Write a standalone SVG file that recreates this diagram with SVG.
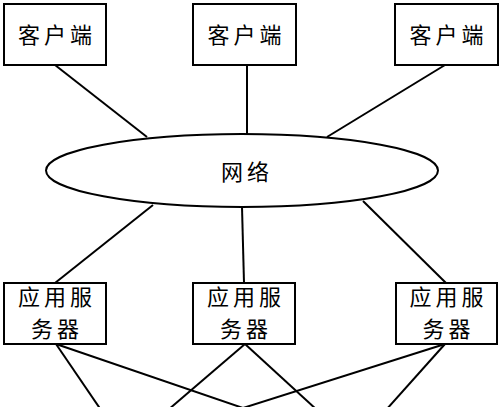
<svg xmlns="http://www.w3.org/2000/svg" width="500" height="407" viewBox="0 0 500 407">
<style>
.box{fill:#fff;stroke:#000;stroke-width:2}
.ln{stroke:#000;stroke-width:2;fill:none}
.t{font-family:"Noto Sans CJK SC","Noto Sans",sans-serif;font-size:22px;fill:#000;text-anchor:middle;letter-spacing:4px}
</style>
<rect width="500" height="407" fill="#fff"/>
<g id="connectors">
<line class="ln" x1="55" y1="65" x2="147" y2="137"/>
<line class="ln" x1="247" y1="65" x2="247" y2="134"/>
<line class="ln" x1="445" y1="65" x2="327" y2="137"/>
<line class="ln" x1="153" y1="205" x2="55" y2="283"/>
<line class="ln" x1="242" y1="207" x2="244" y2="283"/>
<line class="ln" x1="363" y1="201" x2="446" y2="283"/>
<line class="ln" x1="56" y1="344" x2="101" y2="410"/>
<line class="ln" x1="56" y1="344" x2="243" y2="408"/>
<line class="ln" x1="245" y1="344" x2="168" y2="410"/>
<line class="ln" x1="245" y1="344" x2="317" y2="410"/>
<line class="ln" x1="445" y1="344" x2="243" y2="408"/>
<line class="ln" x1="445" y1="344" x2="386" y2="410"/>
</g>
<g id="client1"><rect class="box" x="4" y="4" width="102" height="61"/><text class="t" x="57" y="43">客户端</text></g>
<g id="client2"><rect class="box" x="193" y="4" width="103" height="61"/><text class="t" x="246.5" y="43">客户端</text></g>
<g id="client3"><rect class="box" x="395" y="4" width="103" height="61"/><text class="t" x="448.5" y="43">客户端</text></g>
<g id="network"><ellipse class="box" cx="242" cy="170.5" rx="196" ry="36.5"/><text class="t" x="247" y="180">网络</text></g>
<g id="server1"><rect class="box" x="4" y="283" width="102" height="61"/><text class="t" x="57" y="305">应用服</text><text class="t" x="57" y="337">务器</text></g>
<g id="server2"><rect class="box" x="193" y="283" width="102" height="61"/><text class="t" x="246" y="305">应用服</text><text class="t" x="246" y="337">务器</text></g>
<g id="server3"><rect class="box" x="396" y="283" width="101" height="61"/><text class="t" x="448.5" y="305">应用服</text><text class="t" x="448.5" y="337">务器</text></g>
</svg>
